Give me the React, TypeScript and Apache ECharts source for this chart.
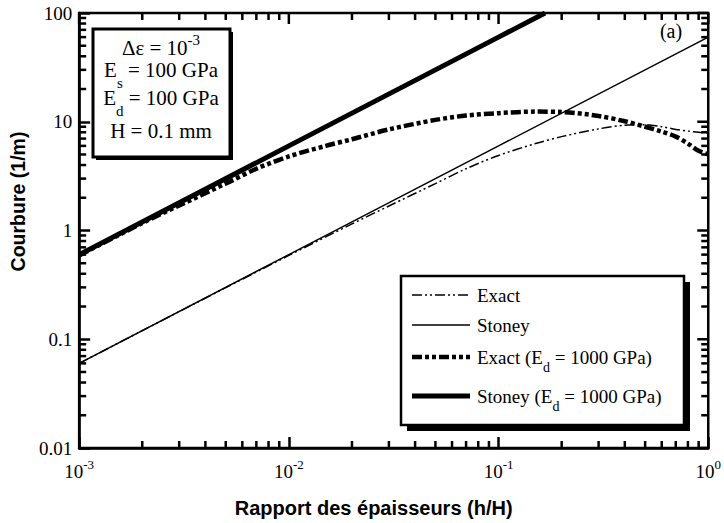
import React, { useEffect, useRef } from "react";
import * as echarts from "echarts";

// ---- data ----
const stoneyX = [0.001, 0.01, 0.1, 1.0];
const stoneyY = [0.06, 0.6, 6, 60];

const stoneyHardX = [0.001, 0.01, 0.1, 0.1667];
const stoneyHardY = [0.6, 6, 60, 100];

const exactX = [0.001, 0.002, 0.005, 0.01, 0.02, 0.03, 0.05, 0.07, 0.1, 0.15, 0.2, 0.3, 0.4, 0.5, 0.6, 0.7, 0.8, 0.9, 1.0];
const exactY = [0.06, 0.12, 0.298, 0.59, 1.15, 1.68, 2.7, 3.7, 4.9, 6.3, 7.3, 8.6, 9.3, 9.4, 9.0, 8.5, 8.2, 8.0, 7.9];

const exactHardX = [0.001, 0.002, 0.003, 0.005, 0.007, 0.01, 0.015, 0.02, 0.03, 0.05, 0.07, 0.1, 0.15, 0.2, 0.3, 0.4, 0.5, 0.6, 0.7, 0.8, 0.9, 1.0];
const exactHardY = [0.59, 1.17, 1.7, 2.7, 3.7, 4.8, 6.0, 6.9, 8.5, 10.4, 11.4, 12.0, 12.4, 12.3, 11.3, 10.1, 9.0, 8.1, 7.3, 6.3, 5.4, 5.0];

const yTickLabels = ["0.01", "0.1", "1", "10", "100"];
const xTickExponents = ["-3", "-2", "-1", "0"];
const minorMultipliers = [2, 3, 4, 5, 6, 7, 8, 9];
const xDecades = [0.001, 0.01, 0.1, 1];
const yDecades = [0.01, 0.1, 1, 10, 100];

const legendNames = ["Exact", "Stoney", "Exact (E", "Stoney (E"];

const SERIF = "Liberation Serif";
const SANS = "Liberation Sans";

const pairs = (xs: number[], ys: number[]) => xs.map((x, i) => [x, ys[i]]);

const xMinor: number[] = [];
xDecades.slice(0, -1).forEach((d) => minorMultipliers.forEach((m) => xMinor.push(d * m)));
const yMinor: number[] = [];
yDecades.slice(0, -1).forEach((d) => minorMultipliers.forEach((m) => yMinor.push(d * m)));

const X_MIN = 0.001, X_MAX = 1, Y_MIN = 0.01, Y_MAX = 100;

const thinDash = [10, 3, 2, 3, 2, 3];
const thickDash = [10, 3, 4, 3, 4, 3];

const MAJOR = 11;
const MINOR = 7;
const TW = 2.5;

type Side = "bottom" | "top" | "left" | "right";

export default function App() {
  const ref = useRef<HTMLDivElement>(null);
  useEffect(() => {
    if (!ref.current) return;
    const chart = echarts.init(ref.current, undefined, { renderer: "svg" });

    const norm = { fontFamily: SERIF, fontSize: 19, color: "#000" };

    // one tick mark per datum, placed through the axes' own log scales
    const tickSeries = (vals: number[], side: Side, len: number) => ({
      type: "custom",
      clip: false,
      data: vals.map((v) =>
        side === "bottom" ? [v, Y_MIN] : side === "top" ? [v, Y_MAX] : side === "left" ? [X_MIN, v] : [X_MAX, v]
      ),
      renderItem: (params: any, api: any) => {
        const c = api.coord([api.value(0), api.value(1)]);
        let shape;
        if (side === "bottom") shape = { x: c[0] - TW / 2, y: c[1] - len, width: TW, height: len };
        else if (side === "top") shape = { x: c[0] - TW / 2, y: c[1], width: TW, height: len };
        else if (side === "left") shape = { x: c[0], y: c[1] - TW / 2, width: len, height: TW };
        else shape = { x: c[0] - len, y: c[1] - TW / 2, width: len, height: TW };
        return { type: "rect", shape, style: { fill: "#000" } };
      },
    });

    const legendY = [295, 325, 357, 396];
    const legendStyles = [
      { lineWidth: 1.5, lineDash: thinDash },
      { lineWidth: 1.5, lineDash: [] },
      { lineWidth: 4.5, lineDash: thickDash },
      { lineWidth: 5, lineDash: [] },
    ];
    const legendRich = {
      n: { fontFamily: SERIF, fontSize: 19, fill: "#000" },
      sub: { fontFamily: SERIF, fontSize: 14, fill: "#000", padding: [20, 0, 0, 0] },
    };
    const legendTexts = [
      `{n|${legendNames[0]}}`,
      `{n|${legendNames[1]}}`,
      `{n|${legendNames[2]}}{sub|d}{n| = 1000 GPa)}`,
      `{n|${legendNames[3]}}{sub|d}{n| = 1000 GPa)}`,
    ];

    const boxRich = {
      n: { fontFamily: SERIF, fontSize: 21, fill: "#000" },
      sub: { fontFamily: SERIF, fontSize: 15, fill: "#000", padding: [26, 0, 0, 0] },
      sup: { fontFamily: SERIF, fontSize: 15, fill: "#000", padding: [0, 0, 16, 0] },
    };

    const option: any = {
      animation: false,
      grid: {
        left: 77, right: 15, top: 13, bottom: 75,
        show: true, borderColor: "#000", borderWidth: 2.5, backgroundColor: "transparent",
      },
      xAxis: {
        type: "log",
        min: X_MIN,
        max: X_MAX,
        interval: 1,
        axisLine: { show: true, onZero: false, lineStyle: { color: "#000", width: 2.5 } },
        axisTick: { show: true, inside: true, length: MAJOR, lineStyle: { color: "#000", width: TW } },
        splitLine: { show: false },
        name: "Rapport des épaisseurs (h/H)",
        nameLocation: "middle",
        nameGap: 50,
        nameTextStyle: {
          fontFamily: SANS, fontWeight: "bold", fontSize: 20, color: "#000",
          padding: [0, 40, 0, 0],
        },
        axisLabel: {
          show: true,
          margin: 10,
          formatter: (v: number) => {
            const e = Math.round(Math.log10(v));
            return `{b|10}{s|${xTickExponents[e + 3]}}`;
          },
          rich: {
            b: { ...norm },
            s: { fontFamily: SERIF, fontSize: 13, color: "#000", padding: [0, 0, 14, 0] },
          },
        },
      },
      yAxis: {
        type: "log",
        min: Y_MIN,
        max: Y_MAX,
        interval: 1,
        axisLine: { show: true, onZero: false, lineStyle: { color: "#000", width: 2.5 } },
        axisTick: { show: true, inside: true, length: MAJOR, lineStyle: { color: "#000", width: TW } },
        splitLine: { show: false },
        name: "Courbure (1/m)",
        nameLocation: "middle",
        nameGap: 44,
        nameTextStyle: {
          fontFamily: SANS, fontWeight: "bold", fontSize: 19.5, color: "#000",
          padding: [0, 0, 0, 58],
        },
        axisLabel: {
          show: true,
          margin: 7,
          ...norm,
          formatter: (v: number) => {
            const e = Math.round(Math.log10(v));
            return yTickLabels[e + 2];
          },
        },
      },
      series: [
        {
          name: "Exact",
          type: "line",
          data: pairs(exactX, exactY),
          showSymbol: false,
          smooth: 0.3,
          lineStyle: { color: "#000", width: 1.5, type: thinDash },
        },
        {
          name: "Stoney",
          type: "line",
          data: pairs(stoneyX, stoneyY),
          showSymbol: false,
          lineStyle: { color: "#000", width: 1.5, type: "solid" },
        },
        {
          name: "Exact (Ed = 1000 GPa)",
          type: "line",
          data: pairs(exactHardX, exactHardY),
          showSymbol: false,
          smooth: 0.3,
          lineStyle: { color: "#000", width: 4.5, type: thickDash },
        },
        {
          name: "Stoney (Ed = 1000 GPa)",
          type: "line",
          data: pairs(stoneyHardX, stoneyHardY),
          showSymbol: false,
          lineStyle: { color: "#000", width: 5, type: "solid" },
        },
        tickSeries(xMinor, "bottom", MINOR),
        tickSeries(xMinor, "top", MINOR),
        tickSeries(yMinor, "left", MINOR),
        tickSeries(yMinor, "right", MINOR),
        tickSeries(xDecades, "top", MAJOR),
        tickSeries(yDecades, "right", MAJOR),
      ],
      graphic: [
        { type: "rect", shape: { x: 96, y: 32, width: 137, height: 128 }, style: { fill: "#000" }, z: 100 },
        { type: "rect", shape: { x: 93, y: 29, width: 137, height: 128 }, style: { fill: "#fff", stroke: "#000", lineWidth: 3 }, z: 101 },
        {
          type: "text", x: 161, y: 48, z: 102,
          style: { text: "{n|Δε = 10}{sup|-3}", rich: boxRich, align: "center", verticalAlign: "middle" },
        },
        {
          type: "text", x: 161, y: 70, z: 102,
          style: { text: "{n|E}{sub|s}{n| = 100 GPa}", rich: boxRich, align: "center", verticalAlign: "middle" },
        },
        {
          type: "text", x: 161, y: 98, z: 102,
          style: { text: "{n|E}{sub|d}{n| = 100 GPa}", rich: boxRich, align: "center", verticalAlign: "middle" },
        },
        {
          type: "text", x: 161, y: 131, z: 102,
          style: { text: "{n|H = 0.1 mm}", rich: boxRich, align: "center", verticalAlign: "middle" },
        },
        {
          type: "text", x: 671, y: 31, z: 102,
          style: { text: "(a)", font: `20px '${SERIF}'`, fill: "#000", align: "center", verticalAlign: "middle" },
        },
        { type: "rect", shape: { x: 407, y: 282, width: 283, height: 149 }, style: { fill: "#000" }, z: 100 },
        { type: "rect", shape: { x: 401, y: 276, width: 283, height: 149 }, style: { fill: "#fff", stroke: "#000", lineWidth: 2.5 }, z: 101 },
        ...legendY.map((y, i) => ({
          type: "line", z: 102,
          shape: { x1: 412, y1: y, x2: 470, y2: y },
          style: { stroke: "#000", lineWidth: legendStyles[i].lineWidth, lineDash: legendStyles[i].lineDash },
        })),
        ...legendY.map((y, i) => ({
          type: "text", x: 477, y, z: 102,
          style: { text: legendTexts[i], rich: legendRich, align: "left", verticalAlign: "middle" },
        })),
      ],
    };

    chart.setOption(option);
    return () => chart.dispose();
  }, []);

  return (
    <div
      ref={ref}
      style={{ position: "fixed", left: 0, top: 0, width: 724, height: 523, background: "#fff" }}
    />
  );
}
